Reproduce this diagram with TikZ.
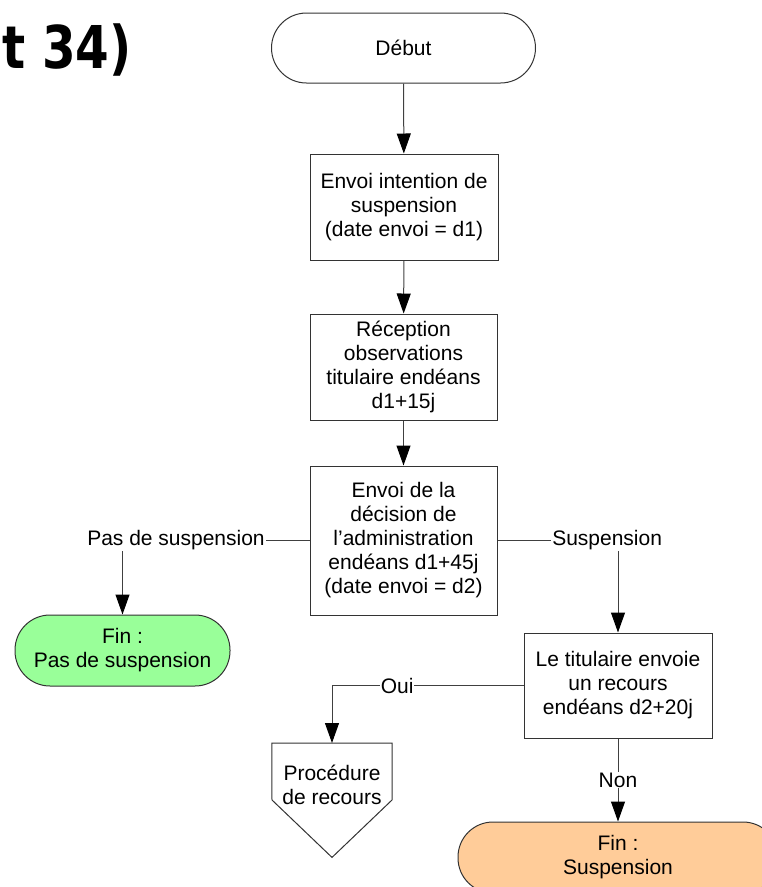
\documentclass[tikz,border=0pt]{standalone}
\usepackage{fontspec}
\usepackage{graphicx}
\setmainfont{Liberation Sans}
\newfontfamily\titlefont{DejaVu Sans}
\usetikzlibrary{arrows.meta}
\definecolor{fingreen}{RGB}{153,255,153}
\definecolor{finorange}{RGB}{255,204,153}
\begin{document}
\begin{tikzpicture}[x=1pt,y=-1pt,
  txt/.style={font=\fontsize{21}{24}\selectfont, align=center},
  box/.style={txt, draw=black!80, line width=1pt, fill=white, inner sep=0pt},
  term/.style={box, rounded corners=35pt},
  conn/.style={draw=black!75, line width=1pt},
  arr/.style={conn, -{Triangle[length=20pt,width=14pt,color=black]}},
  lbl/.style={txt, fill=white, inner sep=1pt, text=black}]
\useasboundingbox (0,0) rectangle (762,887);

\node[anchor=base west, inner sep=0pt, font=\titlefont\bfseries\fontsize{59}{59}\selectfont] (title) at (2,68) {\scalebox{0.82}[1]{t 34)}};

\node[term, minimum width=264pt, minimum height=70pt] (debut) at (403.5,48) {Début};
\node[box, minimum width=188pt, minimum height=106pt] (b1) at (404,207) {Envoi intention de\\suspension\\(date envoi = d1)};
\node[box, minimum width=187pt, minimum height=106pt] (b2) at (403.5,367) {Réception\\observations\\titulaire endéans\\d1+15j};
\node[box, minimum width=187pt, minimum height=149pt] (b3) at (403.5,540.5) {Envoi de la\\décision de\\l’administration\\endéans d1+45j\\(date envoi = d2)};
\node[box, minimum width=188pt, minimum height=105pt] (b4) at (618,685.5) {Le titulaire envoie\\un recours\\endéans d2+20j};
\node[term, fill=fingreen, minimum width=215pt, minimum height=71pt] (fpas) at (122.5,650.5) {Fin :\\Pas de suspension};
\node[term, fill=finorange, minimum width=320pt, minimum height=71pt] (fsusp) at (618,857.5) {Fin :\\Suspension};

\node[minimum width=120pt, minimum height=114pt, inner sep=0pt, anchor=north] (proc) at (332,743) {};
\draw[draw=black!80, line width=1pt, fill=white] (proc.north west) -- (proc.north east) -- (392,800) -- (proc.south) -- (272,800) -- cycle;
\node[txt] (proctxt) at (332,785) {Procédure\\de recours};

\draw[arr] (debut) -- (b1);
\draw[arr] (b1) -- (b2);
\draw[arr] (b2) -- (b3);
\draw[arr] (b3.west) -| node[lbl, pos=0.357] {Pas de suspension} (fpas.north);
\draw[arr] (b3.east) -| node[lbl, pos=0.455] {Suspension} (b4.north);
\draw[arr] (b4.west) -| node[lbl, pos=0.33] {Oui} (proc.north);
\draw[arr] (b4.south) -- node[lbl] {Non} (fsusp.north);
\end{tikzpicture}
\end{document}
